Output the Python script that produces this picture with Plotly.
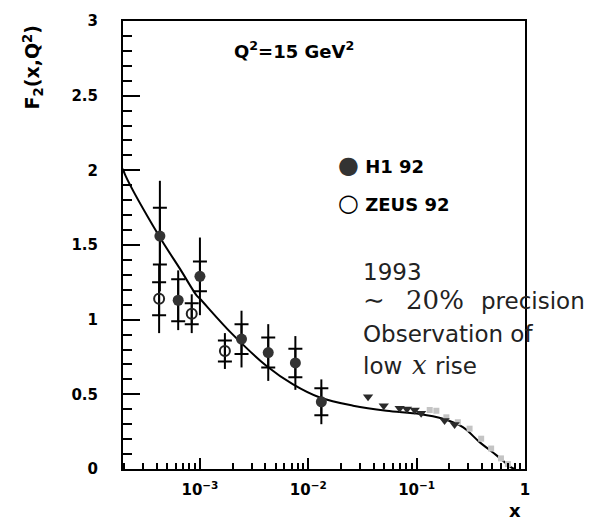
import plotly.graph_objects as go

# ---- data ----
h1_x = [4.27e-4, 6.3e-4, 1.0e-3, 2.42e-3, 4.27e-3, 7.6e-3, 1.32e-2]
h1_y = [1.56, 1.13, 1.29, 0.87, 0.78, 0.71, 0.45]
h1_stat = [0.19, 0.14, 0.10, 0.10, 0.10, 0.095, 0.09]
h1_tot = [0.37, 0.20, 0.26, 0.19, 0.19, 0.18, 0.15]

zeus_x = [4.2e-4, 8.4e-4, 1.7e-3]
zeus_y = [1.14, 1.04, 0.79]
zeus_stat = [0.11, 0.07, 0.07]
zeus_tot = [0.23, 0.13, 0.12]

nmc_x = [0.0356, 0.0497, 0.0697, 0.0814, 0.096, 0.11, 0.181, 0.224]
nmc_y = [0.483, 0.424, 0.406, 0.402, 0.395, 0.373, 0.325, 0.298]

bcdms_x = [0.132, 0.152, 0.188, 0.24, 0.308, 0.394, 0.487, 0.60, 0.695]
bcdms_y = [0.395, 0.39, 0.346, 0.313, 0.27, 0.203, 0.137, 0.071, 0.033]

curve_x = [1.95e-4, 2.04e-4, 4.28e-4, 6.55e-4, 9.3e-4, 1.0e-3, 1.95e-3, 4.12e-3,
           7.24e-3, 1.28e-2, 2.59e-2, 5.26e-2, 0.107, 0.175, 0.267, 0.381,
           0.543, 0.746, 0.80]
curve_y = [2.01, 1.97, 1.55, 1.34, 1.163, 1.14, 0.91, 0.69,
           0.567, 0.479, 0.424, 0.39, 0.369, 0.336, 0.28, 0.18,
           0.093, 0.011, 0.0]

x_tickvals = [1e-3, 1e-2, 1e-1, 1]
x_ticktext = ["10<sup>−3</sup>", "10<sup>−2</sup>", "10<sup>−1</sup>", "1"]
x_minor = [m * 10.0 ** e for e in (-4, -3, -2, -1) for m in range(2, 10)]
y_tickvals = [0, 0.5, 1, 1.5, 2, 2.5, 3]
y_ticktext = ["0", "0.5", "1", "1.5", "2", "2.5", "3"]

W, H = 601, 521
L, R, T, B = 123, 76, 16, 52

fig = go.Figure()

# theory curve
fig.add_trace(go.Scatter(x=curve_x, y=curve_y, mode="lines",
                         line=dict(color="black", width=2, shape="spline"),
                         hoverinfo="skip"))

# fixed-target data
fig.add_trace(go.Scatter(x=bcdms_x, y=bcdms_y, mode="markers",
                         marker=dict(symbol="square", size=6, color="#c4c4c4")))
fig.add_trace(go.Scatter(x=nmc_x, y=nmc_y, mode="markers",
                         marker=dict(symbol="triangle-down", size=9, color="#2a2a2a")))

def add_points(xs, ys, stat, tot, marker):
    fig.add_trace(go.Scatter(x=xs, y=ys, mode="markers",
                             marker=dict(size=1, color="rgba(0,0,0,0)"),
                             error_y=dict(type="data", array=tot, width=0,
                                          thickness=2, color="black")))
    fig.add_trace(go.Scatter(x=xs, y=ys, mode="markers", marker=marker,
                             error_y=dict(type="data", array=stat, width=7,
                                          thickness=2, color="black")))

add_points(zeus_x, zeus_y, zeus_stat, zeus_tot,
           dict(symbol="circle-open", size=10, color="#222222", line=dict(width=2, color="#222222")))
add_points(h1_x, h1_y, h1_stat, h1_tot,
           dict(symbol="circle", size=11, color="#333333"))

tickfont = dict(family="DejaVu Sans", size=15, color="black", weight="bold")

fig.update_xaxes(type="log", range=[-3.71, 0.0],
                 tickmode="array", tickvals=x_tickvals, ticktext=x_ticktext,
                 ticks="inside", ticklen=11, tickwidth=2, tickcolor="black",
                 minor=dict(tickmode="array", tickvals=x_minor, ticks="inside",
                            ticklen=6, tickwidth=2, tickcolor="black", showgrid=False),
                 showline=True, linecolor="black", linewidth=2, mirror=True,
                 showgrid=False, zeroline=False, tickfont=tickfont,
                 ticklabelstandoff=6)
fig.update_yaxes(range=[0, 3], tickmode="array", tickvals=y_tickvals, ticktext=y_ticktext,
                 ticks="inside", ticklen=17, tickwidth=2, tickcolor="black",
                 minor=dict(dtick=0.1, ticks="inside", ticklen=9, tickwidth=2,
                            tickcolor="black", showgrid=False),
                 showline=True, linecolor="black", linewidth=2, mirror=True,
                 showgrid=False, zeroline=False, tickfont=tickfont,
                 ticklabelstandoff=20)

def px(xp):
    return (xp - L) / (W - L - R)

def py(yp):
    return (H - B - yp) / (H - T - B)

bold = dict(family="DejaVu Sans", color="black", weight="bold")
txt = dict(family="DejaVu Sans", size=23, color="#222222")
mathfont = dict(family="DejaVu Serif", size=26, color="#222222")

annotations = [
    dict(x=px(232), y=py(45), text="Q<sup>2</sup>=15 GeV<sup>2</sup>",
         font=dict(size=18, **bold), xanchor="left"),
    dict(x=px(336), y=py(162), text="<span style=\"font-size:24px;color:#333\">●</span> H1 92",
         font=dict(size=18, **bold), xanchor="left"),
    dict(x=px(336), y=py(200), text="<span style=\"font-size:24px\">○</span> ZEUS 92",
         font=dict(size=18, **bold), xanchor="left"),
    dict(x=px(33), y=py(63), text="F<sub>2</sub>(x,Q<sup>2</sup>)", textangle=-90,
         font=dict(size=19, **bold), xanchor="center"),
    dict(x=px(515), y=py(511), text="x", font=dict(size=18, **bold), xanchor="center"),
    dict(x=px(361), y=py(270), text="1993", font=txt, xanchor="left"),
    dict(x=px(361), y=py(298), text="∼\u2002 20%", font=mathfont, xanchor="left"),
    dict(x=px(479), y=py(299), text="precision", font=txt, xanchor="left"),
    dict(x=px(361), y=py(332), text="Observation of", font=txt, xanchor="left"),
    dict(x=px(361), y=py(365), text="low", font=txt, xanchor="left"),
    dict(x=px(410), y=py(364), text="<i>x</i>", font=mathfont, xanchor="left"),
    dict(x=px(433), y=py(365), text="rise", font=txt, xanchor="left"),
]
for a in annotations:
    a.update(xref="paper", yref="paper", showarrow=False, yanchor="middle")

fig.update_layout(width=W, height=H, margin=dict(l=L, r=R, t=T, b=B),
                  plot_bgcolor="white", paper_bgcolor="white",
                  showlegend=False, annotations=annotations)

fig.write_html("out.html")
